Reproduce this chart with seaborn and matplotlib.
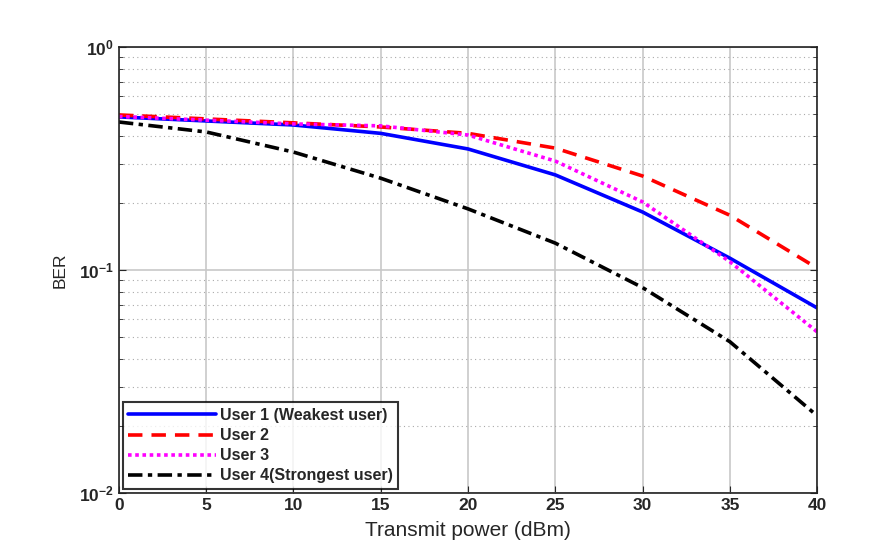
import numpy as np
import pandas as pd
import matplotlib
matplotlib.use("Agg")
import matplotlib.pyplot as plt
import seaborn as sns
from matplotlib.ticker import LogLocator, NullFormatter

sns.set_style("white")
plt.rcParams['font.family'] = ['Liberation Sans', 'DejaVu Sans']

power = [0, 5, 10, 15, 20, 25, 30, 35, 40]
user1 = [0.486, 0.466, 0.447, 0.410, 0.349, 0.267, 0.182, 0.113, 0.0676]
user2 = [0.496, 0.476, 0.457, 0.438, 0.410, 0.352, 0.264, 0.176, 0.102]
user3 = [0.488, 0.470, 0.452, 0.443, 0.403, 0.308, 0.202, 0.109, 0.0528]
user4 = [0.461, 0.416, 0.338, 0.258, 0.188, 0.132, 0.0834, 0.0477, 0.0222]
labels = ["User 1 (Weakest user)", "User 2", "User 3", "User 4(Strongest user)"]
colors = ["#0000ff", "#ff0000", "#ff00ff", "#000000"]
styles = ["-", (0, (4, 2.5)), (0, (1, 1)), (0, (4, 1.5, 1.2, 1.5))]

fig = plt.figure(figsize=(8.94, 5.48), dpi=100)
ax = fig.add_axes([0.133, 0.1004, 0.781, 0.8138])

for vals, lab, c, ls in zip([user1, user2, user3, user4], labels, colors, styles):
    df = pd.DataFrame({"x": power, "y": vals})
    sns.lineplot(data=df, x="x", y="y", ax=ax, color=c, linestyle=ls,
                 linewidth=2.6, label=lab)

ax.set_yscale("log")
ax.set_xlim(0, 40)
ax.set_ylim(1e-2, 1e0)
ax.set_xticks(range(0, 41, 5))
ax.yaxis.set_major_locator(LogLocator(base=10, numticks=5))
ax.yaxis.set_minor_locator(LogLocator(base=10, subs=np.arange(2, 10), numticks=20))
ax.yaxis.set_minor_formatter(NullFormatter())

ax.grid(True, which="major", color="#c8c8c8", linewidth=1.2, linestyle="-")
ax.grid(True, which="minor", axis="y", color="#aaaaaa", linewidth=0.8, linestyle=(0, (1, 3)))
ax.set_axisbelow(True)

ax.tick_params(which="both", direction="in", top=False, right=True, left=True, bottom=True)
ax.tick_params(which="major", length=5, labelsize=12.5)
ax.tick_params(which="minor", length=3)
for lbl in ax.get_xticklabels() + ax.get_yticklabels():
    lbl.set_fontweight("bold")

for s in ax.spines.values():
    s.set_color("#222222")
    s.set_linewidth(1.2)

ax.set_xlabel("Transmit power (dBm)", fontsize=15, labelpad=6)
ax.set_ylabel("BER", fontsize=12.5, labelpad=8)

leg = ax.legend(loc="lower left", fontsize=11.5, frameon=True, fancybox=False,
                edgecolor="black", borderpad=0.35, labelspacing=0.32,
                handlelength=5.5, handletextpad=0.2, borderaxespad=0.25)
leg.get_frame().set_linewidth(1.5)
for t in leg.get_texts():
    t.set_fontweight("bold")

fig.savefig("out.png", dpi=100, facecolor="white")
